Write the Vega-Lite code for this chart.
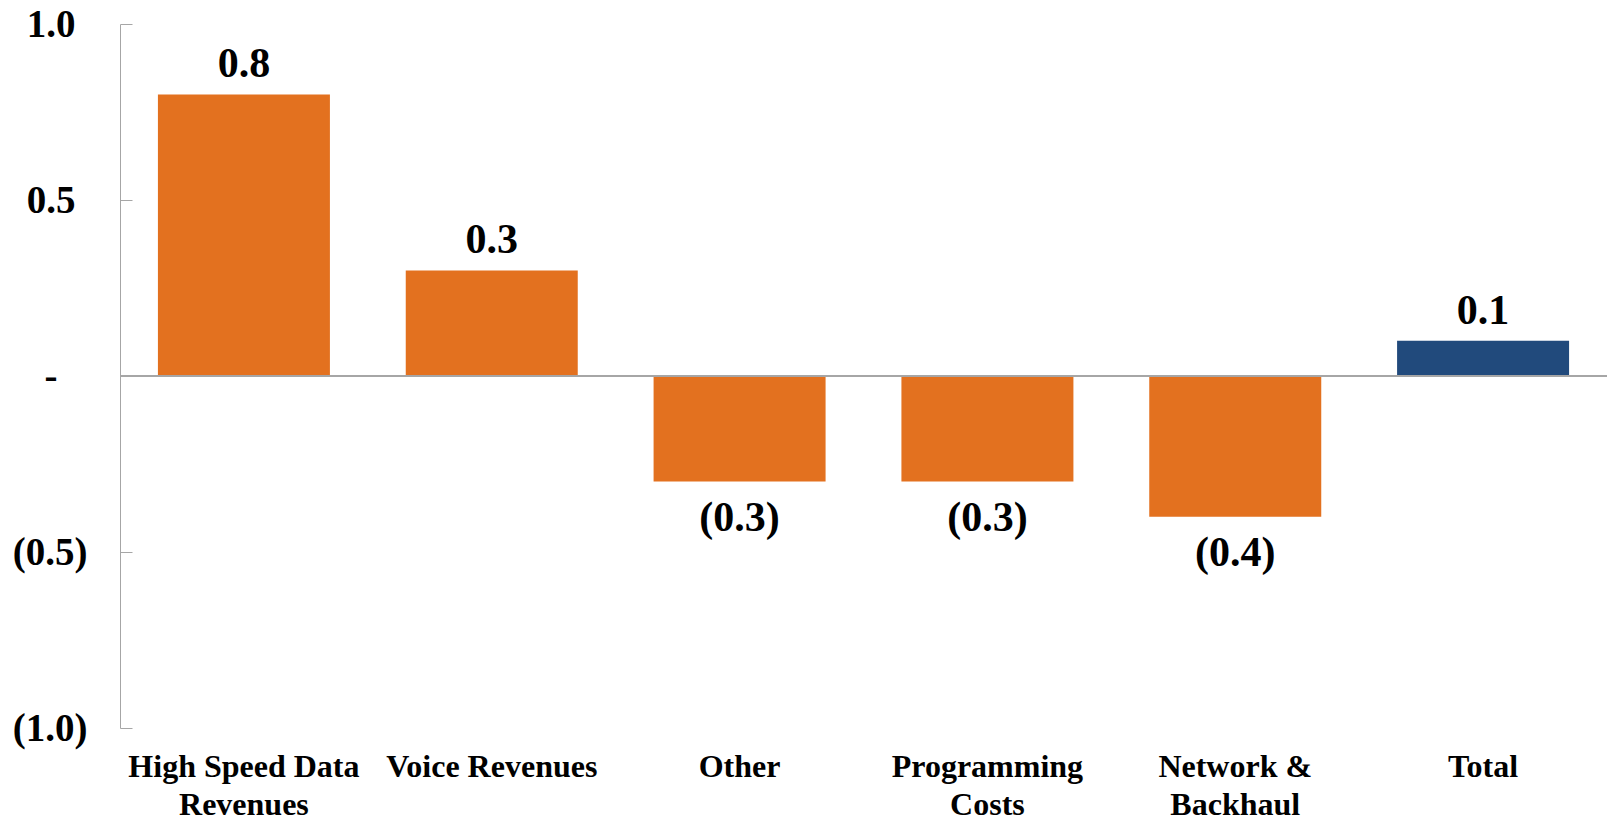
{
  "$schema": "https://vega.github.io/schema/vega-lite/v6.json",
  "width": 1487,
  "height": 704,
  "autosize": {"type": "none"},
  "padding": {"left": 120, "top": 24, "right": 0, "bottom": 90},
  "background": "white",
  "config": {"view": {"stroke": null}},
  "data": {
    "values": [
      {"category": "High Speed Data Revenues", "value": 0.8},
      {"category": "Voice Revenues", "value": 0.3},
      {"category": "Other", "value": -0.3},
      {"category": "Programming Costs", "value": -0.3},
      {"category": "Network & Backhaul", "value": -0.4},
      {"category": "Total", "value": 0.1}
    ]
  },
  "transform": [
    {"calculate": "datum.value < 0 ? '(' + format(-datum.value, '.1f') + ')' : format(datum.value, '.1f')", "as": "label"}
  ],
  "encoding": {
    "x": {
      "field": "category",
      "type": "nominal",
      "sort": null,
      "scale": {"paddingInner": 0.306, "paddingOuter": 0.153},
      "axis": {
        "title": null,
        "domain": false,
        "ticks": false,
        "labelAngle": 0,
        "labelFont": "Liberation Serif",
        "labelFontWeight": "bold",
        "labelFontSize": 32,
        "labelColor": "black",
        "labelBaseline": "top",
        "labelPadding": 23,
        "labelLineHeight": 38,
        "labelLimit": 400,
        "labelExpr": "datum.label == 'High Speed Data Revenues' ? ['High Speed Data', 'Revenues'] : datum.label == 'Programming Costs' ? ['Programming', 'Costs'] : datum.label == 'Network & Backhaul' ? ['Network &', 'Backhaul'] : datum.label"
      }
    }
  },
  "resolve": {"axis": {"y": "independent"}},
  "layer": [
    {
      "mark": {"type": "bar"},
      "encoding": {
        "y": {
          "field": "value",
          "type": "quantitative",
          "scale": {"domain": [-1, 1], "nice": false},
          "axis": {
            "orient": "left",
            "title": null,
            "values": [-1, -0.5, 0.5, 1],
            "grid": false,
            "domainColor": "#A6A6A6",
            "tickColor": "#A6A6A6",
            "tickSize": -12,
            "labelFont": "Liberation Serif",
            "labelFontWeight": "bold",
            "labelFontSize": 39,
            "labelColor": "black",
            "labelPadding": {"condition": {"test": "datum.value > 0", "value": 57}, "value": 45},
            "labelAlign": "right",
            "labelBaseline": "middle",
            "labelExpr": "datum.value < 0 ? '(' + format(-datum.value, '.1f') + ')' : format(datum.value, '.1f')"
          }
        },
        "color": {
          "condition": {"test": "datum.category == 'Total'", "value": "#214A7C"},
          "value": "#E3711F"
        }
      }
    },
    {
      "mark": {"type": "rule", "color": "#A6A6A6", "strokeWidth": 1.5},
      "encoding": {
        "y": {
          "datum": 0,
          "type": "quantitative",
          "axis": {
            "orient": "left",
            "title": null,
            "values": [0],
            "grid": false,
            "domain": false,
            "ticks": false,
            "labelFont": "Liberation Serif",
            "labelFontWeight": "bold",
            "labelFontSize": 39,
            "labelColor": "black",
            "labelPadding": 63,
            "labelAlign": "right",
            "labelBaseline": "middle",
            "labelExpr": "'-'"
          }
        },
        "x": {"value": 0},
        "x2": {"value": 1487}
      }
    },
    {
      "transform": [{"filter": "datum.value >= 0"}],
      "mark": {"type": "text", "font": "Liberation Serif", "fontWeight": "bold", "fontSize": 42, "baseline": "alphabetic", "dy": -17, "color": "black"},
      "encoding": {
        "y": {"field": "value", "type": "quantitative", "axis": null},
        "text": {"field": "label", "type": "nominal"}
      }
    },
    {
      "transform": [{"filter": "datum.value < 0"}],
      "mark": {"type": "text", "font": "Liberation Serif", "fontWeight": "bold", "fontSize": 42, "baseline": "alphabetic", "dy": 49, "color": "black"},
      "encoding": {
        "y": {"field": "value", "type": "quantitative", "axis": null},
        "text": {"field": "label", "type": "nominal"}
      }
    }
  ]
}
